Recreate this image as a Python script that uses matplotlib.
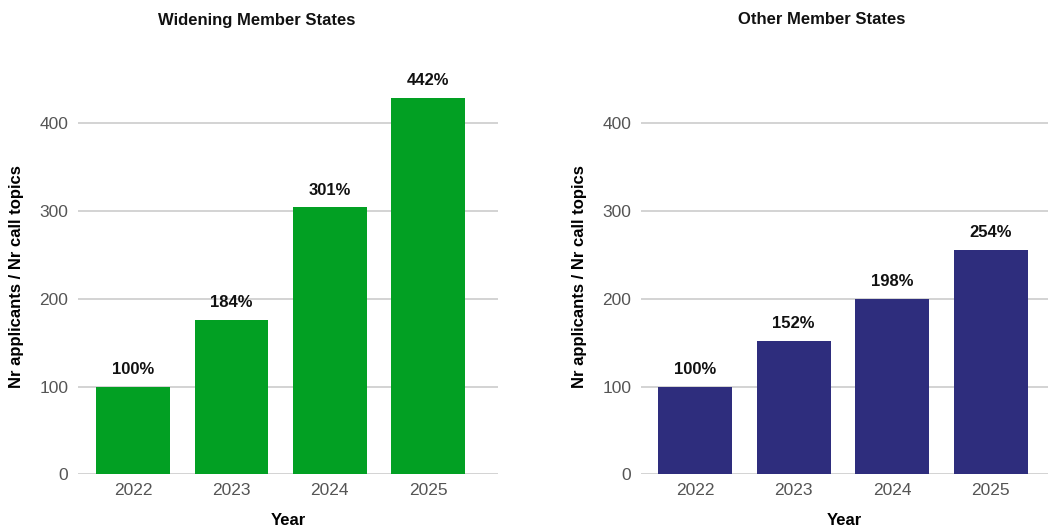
import matplotlib
matplotlib.use("Agg")
import matplotlib.pyplot as plt

plt.rcParams['font.family'] = ['Liberation Sans', 'DejaVu Sans']

# === DATA ===
years = ["2022", "2023", "2024", "2025"]
widening_values = [100, 176, 304, 429]
widening_labels = ["100%", "184%", "301%", "442%"]
other_values = [100, 152, 200, 256]
other_labels = ["100%", "152%", "198%", "254%"]
y_ticks = [0, 100, 200, 300, 400]

GREEN = "#02A023"
NAVY = "#2E2D7D"
GRID = "#C8C8C8"
TICK = "#555555"

fig = plt.figure(figsize=(10.5, 5.26), dpi=100)

panels = [
    # (axes rect, xlim, values, labels, colour, title, title x, ylabel x)
    ([78 / 1050, 0.0983, 420 / 1050, 0.751], (-0.56, 3.71), widening_values, widening_labels,
     GREEN, "Widening Member States", 257 / 1050, -0.129),
    ([641 / 1050, 0.0983, 407 / 1050, 0.751], (-0.55, 3.58), other_values, other_labels,
     NAVY, "Other Member States", 822 / 1050, -0.133),
]

for rect, xlim, values, labels, colour, title, tx, ylx in panels:
    ax = fig.add_axes(rect)
    x = range(len(years))
    bars = ax.bar(x, values, width=0.75, color=colour, zorder=3)
    for b, lab in zip(bars, labels):
        ax.annotate(lab, (b.get_x() + b.get_width() / 2, b.get_height()),
                    xytext=(0, 7), textcoords="offset points",
                    ha="center", va="bottom", fontsize=12, fontweight="bold", color="#111111")
    ax.set_xlim(*xlim)
    ax.set_ylim(0, 450)
    ax.set_xticks(list(x))
    ax.set_xticklabels(years)
    ax.set_yticks(y_ticks)
    ax.yaxis.grid(True, color=GRID, linewidth=1.1, zorder=0)
    ax.set_axisbelow(True)
    for s in ax.spines.values():
        s.set_visible(False)
    ax.tick_params(axis="both", length=0, labelsize=12.5, labelcolor=TICK)
    ax.tick_params(axis="y", pad=7)
    ax.tick_params(axis="x", pad=6)
    ax.set_xlabel("Year", fontsize=12, fontweight="bold", labelpad=11)
    ax.set_ylabel("Nr applicants / Nr call topics", fontsize=12, fontweight="bold")
    ax.yaxis.set_label_coords(ylx, 0.5)
    fig.text(tx, 1 - 20 / 526, title, ha="center", va="center",
             fontsize=12, fontweight="bold", color="#111111")

fig.savefig("out.png", dpi=100)
